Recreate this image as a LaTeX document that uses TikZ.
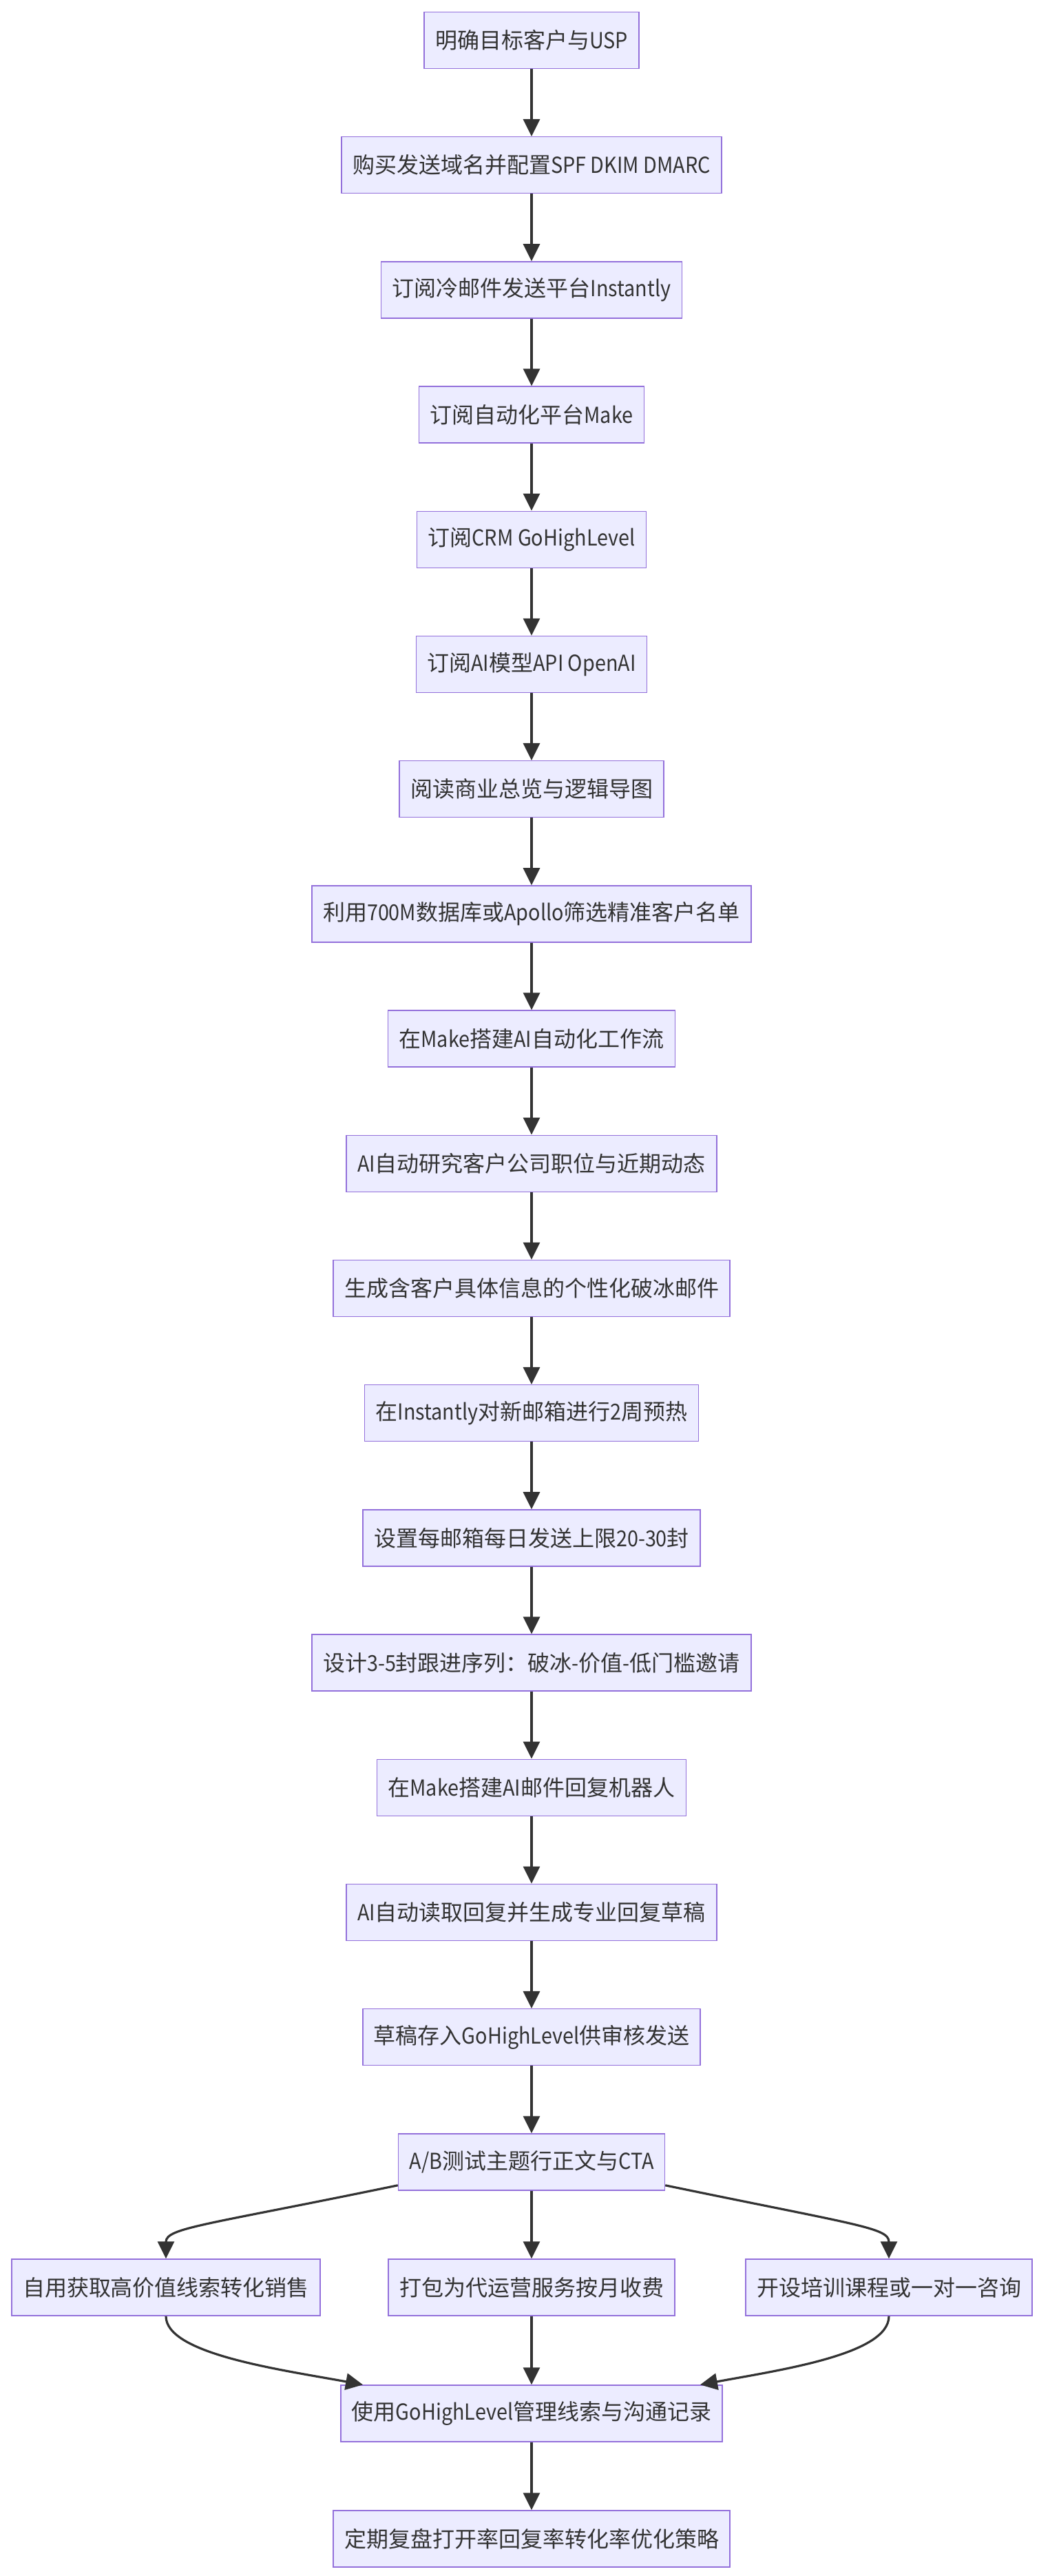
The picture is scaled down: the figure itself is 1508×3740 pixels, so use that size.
\documentclass[tikz,border=0pt]{standalone}
\usepackage{fontspec}
\setmainfont{Noto Sans CJK SC}
\newfontfamily\latf[FakeStretch=0.9]{Noto Sans CJK SC}
\newcommand{\lt}[1]{{\latf #1}}
\usetikzlibrary{arrows.meta}
\definecolor{nodefill}{HTML}{ECECFF}
\definecolor{nodeline}{HTML}{9370DB}
\definecolor{edgecol}{HTML}{333333}
\begin{document}
\begin{tikzpicture}[x=1pt,y=-1pt,
  box/.style={draw=nodeline, fill=nodefill, line width=1.5pt, minimum height=82pt,
    inner xsep=16pt, inner ysep=0pt, text=edgecol, font=\fontsize{32}{40}\selectfont},
  flow/.style={draw=edgecol, line width=3.2pt, -{Triangle[length=25pt,width=24pt]}}]
\useasboundingbox (0,0) rectangle (1508,3740);
\node[box] (n0)  at (772,58.5)   {明确目标客户与\lt{USP}};
\node[box] (n1)  at (772,239.7)  {购买发送域名并配置\lt{SPF DKIM DMARC}};
\node[box] (n2)  at (772,420.9)  {订阅冷邮件发送平台\lt{Instantly}};
\node[box] (n3)  at (772,602.1)  {订阅自动化平台\lt{Make}};
\node[box] (n4)  at (772,783.3)  {订阅\lt{CRM GoHighLevel}};
\node[box] (n5)  at (772,964.5)  {订阅\lt{AI}模型\lt{API OpenAI}};
\node[box] (n6)  at (772,1145.7) {阅读商业总览与逻辑导图};
\node[box] (n7)  at (772,1326.9) {利用\lt{700M}数据库或\lt{Apollo}筛选精准客户名单};
\node[box] (n8)  at (772,1508.1) {在\lt{Make}搭建\lt{AI}自动化工作流};
\node[box] (n9)  at (772,1689.3) {\lt{AI}自动研究客户公司职位与近期动态};
\node[box] (n10) at (772,1870.5) {生成含客户具体信息的个性化破冰邮件};
\node[box] (n11) at (772,2051.7) {在\lt{Instantly}对新邮箱进行\lt{2}周预热};
\node[box] (n12) at (772,2232.9) {设置每邮箱每日发送上限\lt{20-30}封};
\node[box] (n13) at (772,2414.1) {设计\lt{3-5}封跟进序列：破冰\lt{-}价值\lt{-}低门槛邀请};
\node[box] (n14) at (772,2595.3) {在\lt{Make}搭建\lt{AI}邮件回复机器人};
\node[box] (n15) at (772,2776.5) {\lt{AI}自动读取回复并生成专业回复草稿};
\node[box] (n16) at (772,2957.7) {草稿存入\lt{GoHighLevel}供审核发送};
\node[box] (n17) at (772,3139)   {\lt{A/B}测试主题行正文与\lt{CTA}};
\node[box] (n18a) at (241,3321)  {自用获取高价值线索转化销售};
\node[box] (n18b) at (772,3321)  {打包为代运营服务按月收费};
\node[box] (n18c) at (1291,3321) {开设培训课程或一对一咨询};
\node[box] (n19) at (772,3504)   {使用\lt{GoHighLevel}管理线索与沟通记录};
\node[box] (n20) at (772,3686)   {定期复盘打开率回复率转化率优化策略};
\foreach \a/\b in {n0/n1,n1/n2,n2/n3,n3/n4,n4/n5,n5/n6,n6/n7,n7/n8,n8/n9,n9/n10,n10/n11,n11/n12,n12/n13,n13/n14,n14/n15,n15/n16,n16/n17,n17/n18b,n18b/n19,n19/n20}
  \draw[flow] (\a) -- (\b);
\draw[flow] ([yshift=8pt]n17.south west) .. controls +(-280,58) and +(0,-45) .. (n18a.north);
\draw[flow] ([yshift=8pt]n17.south east) .. controls +(280,58) and +(0,-45) .. (n18c.north);
\draw[flow] (n18a.south) .. controls +(0,55) and +(-120,-22) .. ([xshift=33pt]n19.north west);
\draw[flow] (n18c.south) .. controls +(0,55) and +(120,-22) .. ([xshift=-33pt]n19.north east);
\end{tikzpicture}
\end{document}
